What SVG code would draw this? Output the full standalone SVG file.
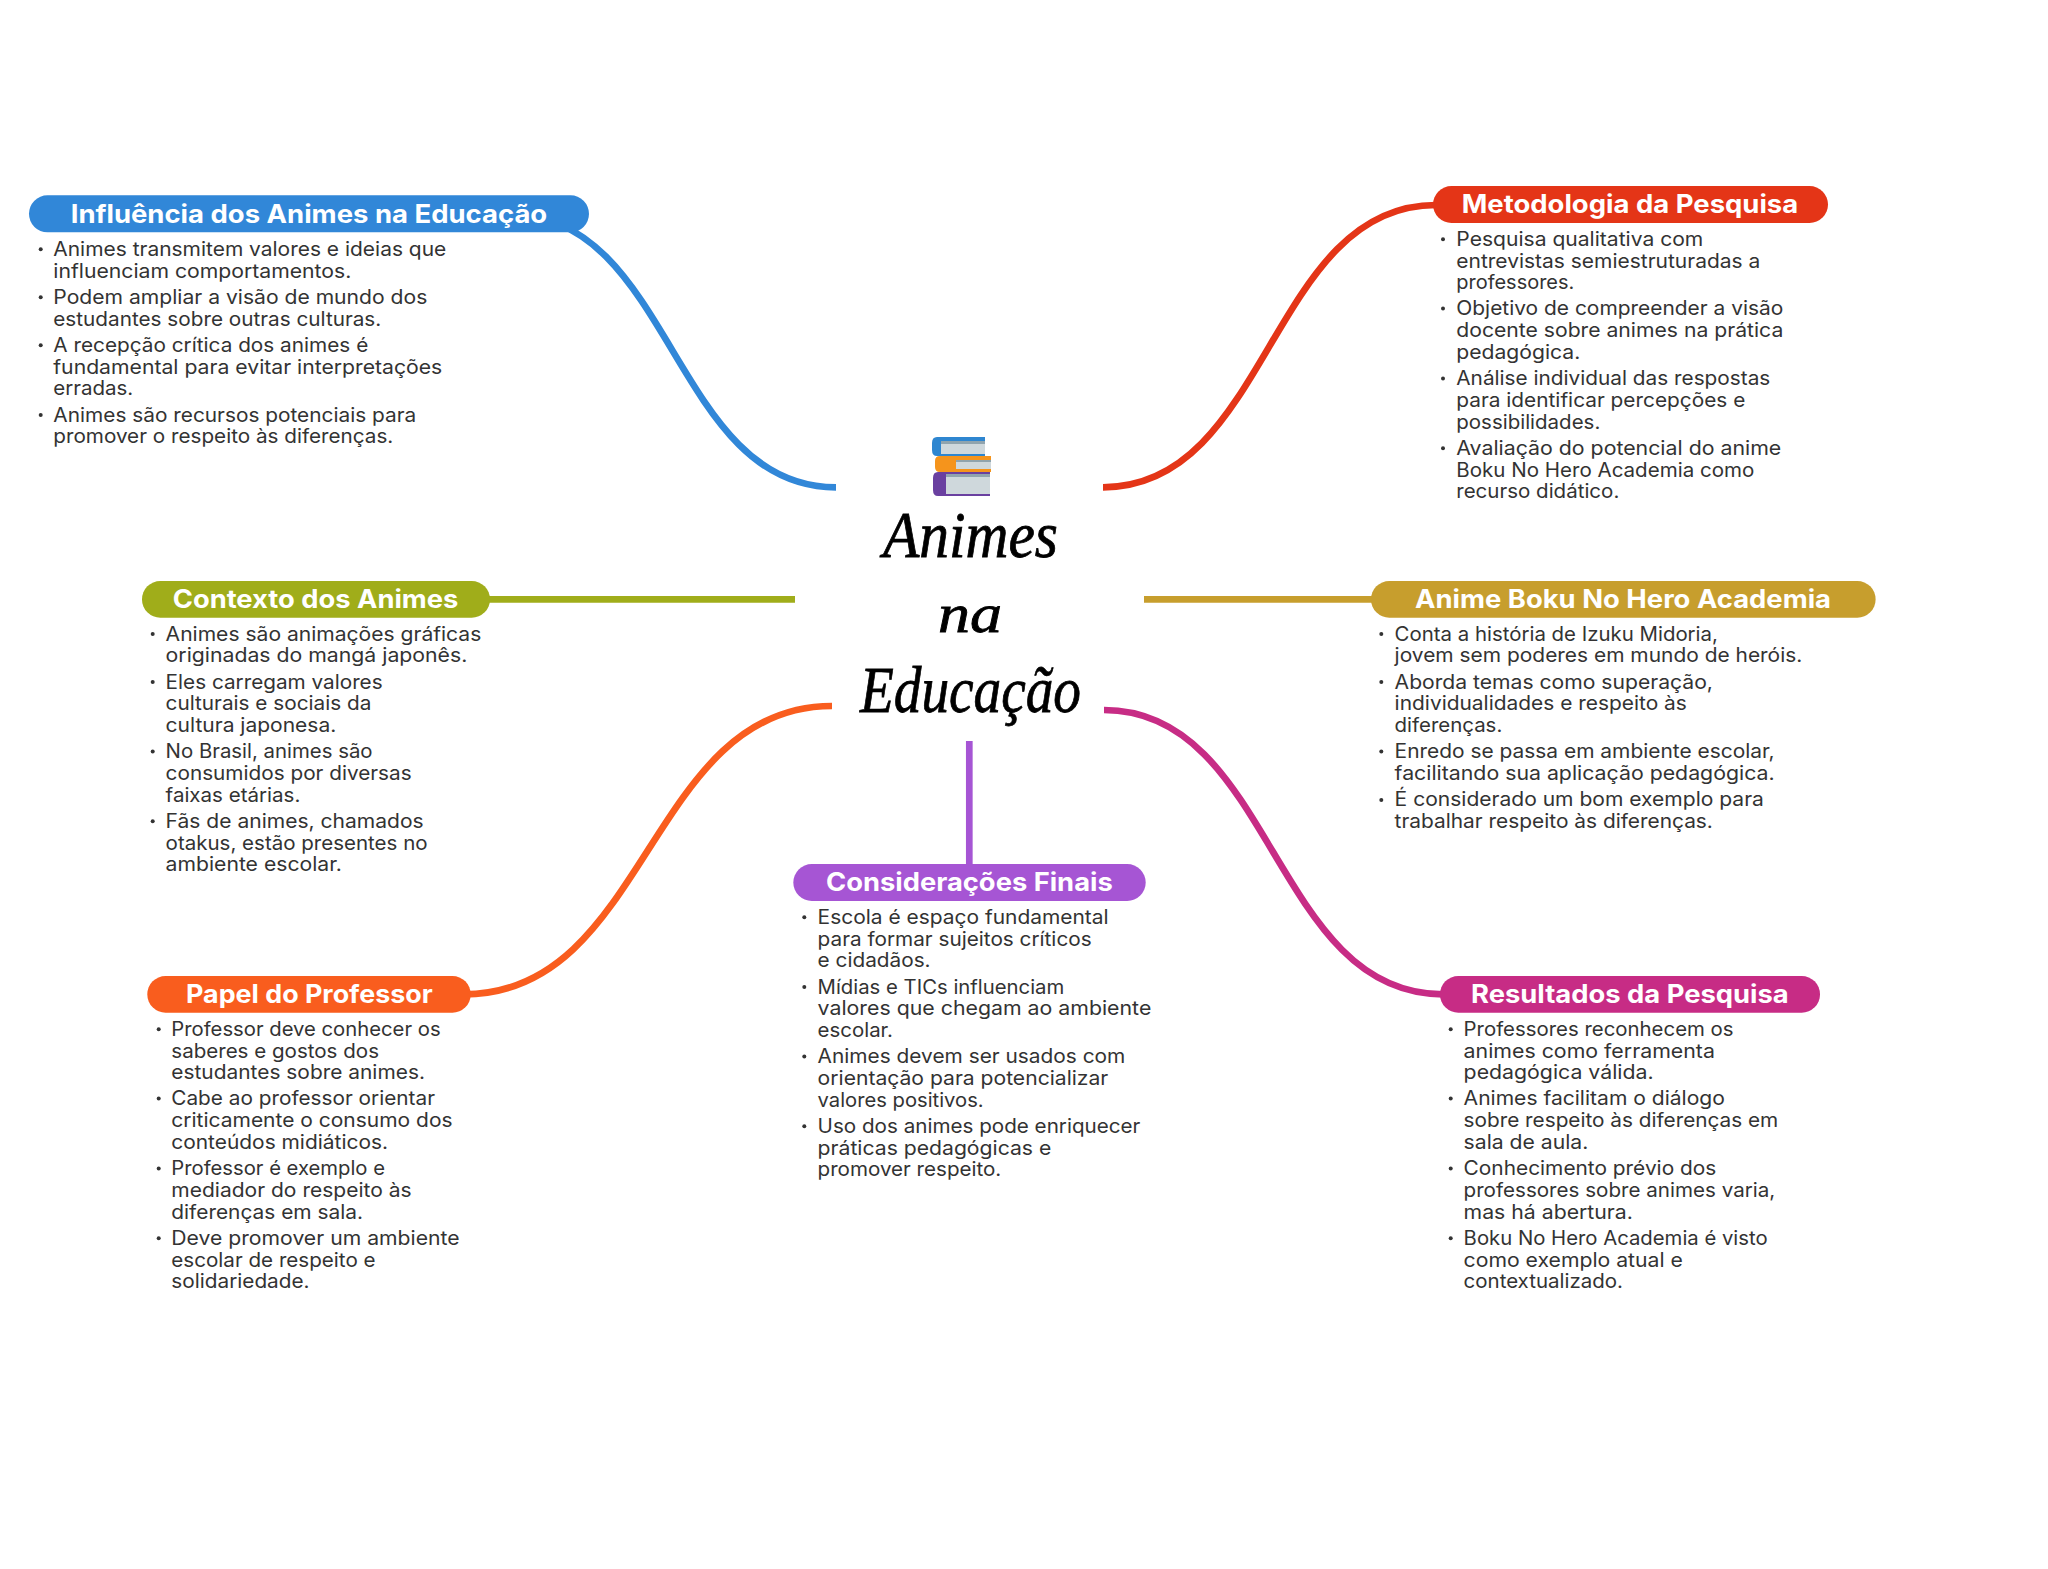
<svg xmlns="http://www.w3.org/2000/svg" width="2048" height="1569" viewBox="0 0 2048 1569">
<defs>
<filter id="soft" x="-10%" y="-10%" width="120%" height="120%"><feGaussianBlur stdDeviation="0.6"/></filter>
</defs>
<style>
.bg{fill:#fff}
.c{fill:none;stroke-width:6.7}
.pill-title{font-family:"Inter","Liberation Sans",sans-serif;font-weight:700;font-size:25.5px;fill:#fff}
.t{font-family:"Inter","Liberation Sans",sans-serif;font-weight:400;font-size:19.6px;fill:#333;transform:translateX(-.4px)}
.b{fill:#333}
.head{font-family:"Liberation Serif",serif;font-style:italic;font-size:66px;fill:#000;stroke:#000;stroke-width:.8}
.head.small{font-size:54px}
.blue{fill:#3187d8}.red{fill:#e43517}.green{fill:#a0ad1a}.gold{fill:#c79e2d}.orange{fill:#f95d1e}.magenta{fill:#c72c85}.purple{fill:#a655d4}
</style>
<rect class="bg" width="2048" height="1569"/>
<g id="connectors">
<path class="c" stroke="#3187d8" d="M836 487.3C672.5 487.3 672.5 214 509 214"/>
<path class="c" stroke="#e43517" d="M1103 487.3C1269.5 487.3 1269.5 205 1436 205"/>
<path class="c" stroke="#a0ad1a" d="M488 599.3H795"/>
<path class="c" stroke="#c79e2d" d="M1144 599.3H1374"/>
<path class="c" stroke="#f95d1e" d="M832 706C648 706 648 994.3 464 994.3"/>
<path class="c" stroke="#c72c85" d="M1104 710C1273 710 1273 994.3 1443 994.3"/>
<path class="c" stroke="#a655d4" d="M969.3 741V866"/>
</g>
<g id="center">
<g id="books" filter="url(#soft)">
<path fill="#2f86d0" d="M937 437H985V456H937Q932 456 932 450V443Q932 437 937 437Z"/>
<rect x="941" y="441" width="44" height="13" fill="#cfd8dc"/><rect x="941" y="441" width="44" height="3" fill="#90a4ae"/>
<path fill="#f5941b" d="M940 456H991V472H940Q935 472 935 467V461Q935 456 940 456Z"/>
<rect x="956" y="460" width="35" height="9" fill="#cfd8dc"/><rect x="956" y="460" width="35" height="2" fill="#90a4ae"/>
<path fill="#6a3fa0" d="M938 472H990V496H938Q933 496 933 490V478Q933 472 938 472Z"/>
<rect x="946" y="474" width="44" height="20" fill="#cfd8dc"/><rect x="946" y="474" width="44" height="3" fill="#90a4ae"/>
</g>
<text class="head" x="883" y="557" textLength="175" lengthAdjust="spacingAndGlyphs">Animes</text>
<text class="head small" x="938" y="632" textLength="64" lengthAdjust="spacingAndGlyphs">na</text>
<text class="head" x="860" y="712" textLength="221" lengthAdjust="spacingAndGlyphs">Educação</text>
</g>
<g id="node-influencia">
<rect class="blue" x="29" y="195.3" width="560" height="37" rx="18.5"/>
<text class="pill-title" x="70.7" y="223.3" textLength="476.5" lengthAdjust="spacingAndGlyphs">Influência dos Animes na Educação</text>
<circle class="b" cx="40.7" cy="249.3" r="2"/><circle class="b" cx="40.7" cy="297.3" r="2"/><circle class="b" cx="40.7" cy="345.3" r="2"/><circle class="b" cx="40.7" cy="415" r="2"/>
<text class="t" x="53.7" y="256" textLength="393" lengthAdjust="spacingAndGlyphs">Animes transmitem valores e ideias que</text>
<text class="t" x="53.7" y="277.7" textLength="298" lengthAdjust="spacingAndGlyphs">influenciam comportamentos.</text>
<text class="t" x="53.7" y="304" textLength="374" lengthAdjust="spacingAndGlyphs">Podem ampliar a visão de mundo dos</text>
<text class="t" x="53.7" y="325.7" textLength="328" lengthAdjust="spacingAndGlyphs">estudantes sobre outras culturas.</text>
<text class="t" x="53.7" y="352" textLength="315" lengthAdjust="spacingAndGlyphs">A recepção crítica dos animes é</text>
<text class="t" x="53.7" y="373.7" textLength="389" lengthAdjust="spacingAndGlyphs">fundamental para evitar interpretações</text>
<text class="t" x="53.7" y="395.3" textLength="80" lengthAdjust="spacingAndGlyphs">erradas.</text>
<text class="t" x="53.7" y="421.7" textLength="363" lengthAdjust="spacingAndGlyphs">Animes são recursos potenciais para</text>
<text class="t" x="53.7" y="443.3" textLength="340" lengthAdjust="spacingAndGlyphs">promover o respeito às diferenças.</text>
</g>
<g id="node-metodologia">
<rect class="red" x="1433" y="186" width="395" height="37" rx="18.5"/>
<text class="pill-title" x="1461.7" y="213.3" textLength="336.5" lengthAdjust="spacingAndGlyphs">Metodologia da Pesquisa</text>
<circle class="b" cx="1443" cy="239.3" r="2"/><circle class="b" cx="1443" cy="308.6" r="2"/><circle class="b" cx="1443" cy="378.6" r="2"/><circle class="b" cx="1443" cy="448.3" r="2"/>
<text class="t" x="1456.7" y="246" textLength="247" lengthAdjust="spacingAndGlyphs">Pesquisa qualitativa com</text>
<text class="t" x="1456.7" y="267.7" textLength="304" lengthAdjust="spacingAndGlyphs">entrevistas semiestruturadas a</text>
<text class="t" x="1456.7" y="289.3" textLength="118" lengthAdjust="spacingAndGlyphs">professores.</text>
<text class="t" x="1456.7" y="315.3" textLength="327" lengthAdjust="spacingAndGlyphs">Objetivo de compreender a visão</text>
<text class="t" x="1456.7" y="337" textLength="327" lengthAdjust="spacingAndGlyphs">docente sobre animes na prática</text>
<text class="t" x="1456.7" y="359" textLength="124" lengthAdjust="spacingAndGlyphs">pedagógica.</text>
<text class="t" x="1456.7" y="385.3" textLength="314" lengthAdjust="spacingAndGlyphs">Análise individual das respostas</text>
<text class="t" x="1456.7" y="407" textLength="289" lengthAdjust="spacingAndGlyphs">para identificar percepções e</text>
<text class="t" x="1456.7" y="428.7" textLength="144" lengthAdjust="spacingAndGlyphs">possibilidades.</text>
<text class="t" x="1456.7" y="455" textLength="325" lengthAdjust="spacingAndGlyphs">Avaliação do potencial do anime</text>
<text class="t" x="1456.7" y="476.7" textLength="298" lengthAdjust="spacingAndGlyphs">Boku No Hero Academia como</text>
<text class="t" x="1456.7" y="498.3" textLength="163" lengthAdjust="spacingAndGlyphs">recurso didático.</text>
</g>
<g id="node-contexto">
<rect class="green" x="142" y="581" width="348" height="36.7" rx="18.3"/>
<text class="pill-title" x="172.7" y="608" textLength="285.6" lengthAdjust="spacingAndGlyphs">Contexto dos Animes</text>
<circle class="b" cx="152.7" cy="634" r="2"/><circle class="b" cx="152.7" cy="682" r="2"/><circle class="b" cx="152.7" cy="751.6" r="2"/><circle class="b" cx="152.7" cy="821.3" r="2"/>
<text class="t" x="166" y="640.7" textLength="315.7" lengthAdjust="spacingAndGlyphs">Animes são animações gráficas</text>
<text class="t" x="166" y="662.3" textLength="301.7" lengthAdjust="spacingAndGlyphs">originadas do mangá japonês.</text>
<text class="t" x="166" y="688.7" textLength="217" lengthAdjust="spacingAndGlyphs">Eles carregam valores</text>
<text class="t" x="166" y="710.3" textLength="205.7" lengthAdjust="spacingAndGlyphs">culturais e sociais da</text>
<text class="t" x="166" y="732" textLength="170.7" lengthAdjust="spacingAndGlyphs">cultura japonesa.</text>
<text class="t" x="166" y="758.3" textLength="207" lengthAdjust="spacingAndGlyphs">No Brasil, animes são</text>
<text class="t" x="166" y="780" textLength="246" lengthAdjust="spacingAndGlyphs">consumidos por diversas</text>
<text class="t" x="166" y="801.7" textLength="134.7" lengthAdjust="spacingAndGlyphs">faixas etárias.</text>
<text class="t" x="166" y="828" textLength="258" lengthAdjust="spacingAndGlyphs">Fãs de animes, chamados</text>
<text class="t" x="166" y="849.7" textLength="262" lengthAdjust="spacingAndGlyphs">otakus, estão presentes no</text>
<text class="t" x="166" y="871.3" textLength="176.3" lengthAdjust="spacingAndGlyphs">ambiente escolar.</text>
</g>
<g id="node-papel">
<rect class="orange" x="147.3" y="976" width="323.4" height="36.7" rx="18.3"/>
<text class="pill-title" x="186" y="1003.3" textLength="246.7" lengthAdjust="spacingAndGlyphs">Papel do Professor</text>
<circle class="b" cx="158.7" cy="1029.3" r="2"/><circle class="b" cx="158.7" cy="1098.6" r="2"/><circle class="b" cx="158.7" cy="1168.6" r="2"/><circle class="b" cx="158.7" cy="1238.3" r="2"/>
<text class="t" x="171.7" y="1036" textLength="269.3" lengthAdjust="spacingAndGlyphs">Professor deve conhecer os</text>
<text class="t" x="171.7" y="1057.7" textLength="207.7" lengthAdjust="spacingAndGlyphs">saberes e gostos dos</text>
<text class="t" x="171.7" y="1079.3" textLength="253.7" lengthAdjust="spacingAndGlyphs">estudantes sobre animes.</text>
<text class="t" x="171.7" y="1105.3" textLength="263.7" lengthAdjust="spacingAndGlyphs">Cabe ao professor orientar</text>
<text class="t" x="171.7" y="1127" textLength="281.3" lengthAdjust="spacingAndGlyphs">criticamente o consumo dos</text>
<text class="t" x="171.7" y="1149" textLength="216.7" lengthAdjust="spacingAndGlyphs">conteúdos midiáticos.</text>
<text class="t" x="171.7" y="1175.3" textLength="213.7" lengthAdjust="spacingAndGlyphs">Professor é exemplo e</text>
<text class="t" x="171.7" y="1197" textLength="240.3" lengthAdjust="spacingAndGlyphs">mediador do respeito às</text>
<text class="t" x="171.7" y="1218.7" textLength="191.7" lengthAdjust="spacingAndGlyphs">diferenças em sala.</text>
<text class="t" x="171.7" y="1245" textLength="288.3" lengthAdjust="spacingAndGlyphs">Deve promover um ambiente</text>
<text class="t" x="171.7" y="1266.7" textLength="204.3" lengthAdjust="spacingAndGlyphs">escolar de respeito e</text>
<text class="t" x="171.7" y="1288.3" textLength="138.3" lengthAdjust="spacingAndGlyphs">solidariedade.</text>
</g>
<g id="node-consideracoes">
<rect class="purple" x="793.3" y="864" width="352.4" height="37" rx="18.5"/>
<text class="pill-title" x="826" y="891.3" textLength="286.7" lengthAdjust="spacingAndGlyphs">Considerações Finais</text>
<circle class="b" cx="804.3" cy="917.3" r="2"/><circle class="b" cx="804.3" cy="987" r="2"/><circle class="b" cx="804.3" cy="1056.6" r="2"/><circle class="b" cx="804.3" cy="1126.3" r="2"/>
<text class="t" x="818" y="924" textLength="291" lengthAdjust="spacingAndGlyphs">Escola é espaço fundamental</text>
<text class="t" x="818" y="945.7" textLength="274" lengthAdjust="spacingAndGlyphs">para formar sujeitos críticos</text>
<text class="t" x="818" y="967.3" textLength="113" lengthAdjust="spacingAndGlyphs">e cidadãos.</text>
<text class="t" x="818" y="993.7" textLength="246.7" lengthAdjust="spacingAndGlyphs">Mídias e TICs influenciam</text>
<text class="t" x="818" y="1015.3" textLength="333.7" lengthAdjust="spacingAndGlyphs">valores que chegam ao ambiente</text>
<text class="t" x="818" y="1037" textLength="75.3" lengthAdjust="spacingAndGlyphs">escolar.</text>
<text class="t" x="818" y="1063.3" textLength="307.7" lengthAdjust="spacingAndGlyphs">Animes devem ser usados com</text>
<text class="t" x="818" y="1085" textLength="290.7" lengthAdjust="spacingAndGlyphs">orientação para potencializar</text>
<text class="t" x="818" y="1106.7" textLength="166" lengthAdjust="spacingAndGlyphs">valores positivos.</text>
<text class="t" x="818" y="1133" textLength="322.7" lengthAdjust="spacingAndGlyphs">Uso dos animes pode enriquecer</text>
<text class="t" x="818" y="1154.7" textLength="233.7" lengthAdjust="spacingAndGlyphs">práticas pedagógicas e</text>
<text class="t" x="818" y="1176.3" textLength="183.7" lengthAdjust="spacingAndGlyphs">promover respeito.</text>
</g>
<g id="node-boku">
<rect class="gold" x="1371" y="581" width="504.6" height="36.7" rx="18.3"/>
<text class="pill-title" x="1415" y="608" textLength="416" lengthAdjust="spacingAndGlyphs">Anime Boku No Hero Academia</text>
<circle class="b" cx="1381.3" cy="634" r="2"/><circle class="b" cx="1381.3" cy="682" r="2"/><circle class="b" cx="1381.3" cy="751.6" r="2"/><circle class="b" cx="1381.3" cy="800" r="2"/>
<text class="t" x="1395" y="640.7" textLength="323.3" lengthAdjust="spacingAndGlyphs">Conta a história de Izuku Midoria,</text>
<text class="t" x="1395" y="662.3" textLength="407.7" lengthAdjust="spacingAndGlyphs">jovem sem poderes em mundo de heróis.</text>
<text class="t" x="1395" y="688.7" textLength="318.3" lengthAdjust="spacingAndGlyphs">Aborda temas como superação,</text>
<text class="t" x="1395" y="710.3" textLength="292.3" lengthAdjust="spacingAndGlyphs">individualidades e respeito às</text>
<text class="t" x="1395" y="732" textLength="107.7" lengthAdjust="spacingAndGlyphs">diferenças.</text>
<text class="t" x="1395" y="758.3" textLength="380" lengthAdjust="spacingAndGlyphs">Enredo se passa em ambiente escolar,</text>
<text class="t" x="1395" y="780" textLength="380" lengthAdjust="spacingAndGlyphs">facilitando sua aplicação pedagógica.</text>
<text class="t" x="1395" y="806.3" textLength="369.3" lengthAdjust="spacingAndGlyphs">É considerado um bom exemplo para</text>
<text class="t" x="1395" y="828" textLength="318.3" lengthAdjust="spacingAndGlyphs">trabalhar respeito às diferenças.</text>
</g>
<g id="node-resultados">
<rect class="magenta" x="1440" y="976" width="380" height="36.7" rx="18.3"/>
<text class="pill-title" x="1471" y="1003.3" textLength="317.7" lengthAdjust="spacingAndGlyphs">Resultados da Pesquisa</text>
<circle class="b" cx="1450.7" cy="1029.3" r="2"/><circle class="b" cx="1450.7" cy="1098.6" r="2"/><circle class="b" cx="1450.7" cy="1168.6" r="2"/><circle class="b" cx="1450.7" cy="1238.3" r="2"/>
<text class="t" x="1464" y="1036" textLength="270" lengthAdjust="spacingAndGlyphs">Professores reconhecem os</text>
<text class="t" x="1464" y="1057.7" textLength="251.3" lengthAdjust="spacingAndGlyphs">animes como ferramenta</text>
<text class="t" x="1464" y="1079.3" textLength="190" lengthAdjust="spacingAndGlyphs">pedagógica válida.</text>
<text class="t" x="1464" y="1105.3" textLength="261.3" lengthAdjust="spacingAndGlyphs">Animes facilitam o diálogo</text>
<text class="t" x="1464" y="1127" textLength="314.7" lengthAdjust="spacingAndGlyphs">sobre respeito às diferenças em</text>
<text class="t" x="1464" y="1149" textLength="124.7" lengthAdjust="spacingAndGlyphs">sala de aula.</text>
<text class="t" x="1464" y="1175.3" textLength="252.7" lengthAdjust="spacingAndGlyphs">Conhecimento prévio dos</text>
<text class="t" x="1464" y="1197" textLength="311.7" lengthAdjust="spacingAndGlyphs">professores sobre animes varia,</text>
<text class="t" x="1464" y="1218.7" textLength="169.3" lengthAdjust="spacingAndGlyphs">mas há abertura.</text>
<text class="t" x="1464" y="1245" textLength="304" lengthAdjust="spacingAndGlyphs">Boku No Hero Academia é visto</text>
<text class="t" x="1464" y="1266.7" textLength="219.3" lengthAdjust="spacingAndGlyphs">como exemplo atual e</text>
<text class="t" x="1464" y="1288.3" textLength="159.3" lengthAdjust="spacingAndGlyphs">contextualizado.</text>
</g>
</svg>
